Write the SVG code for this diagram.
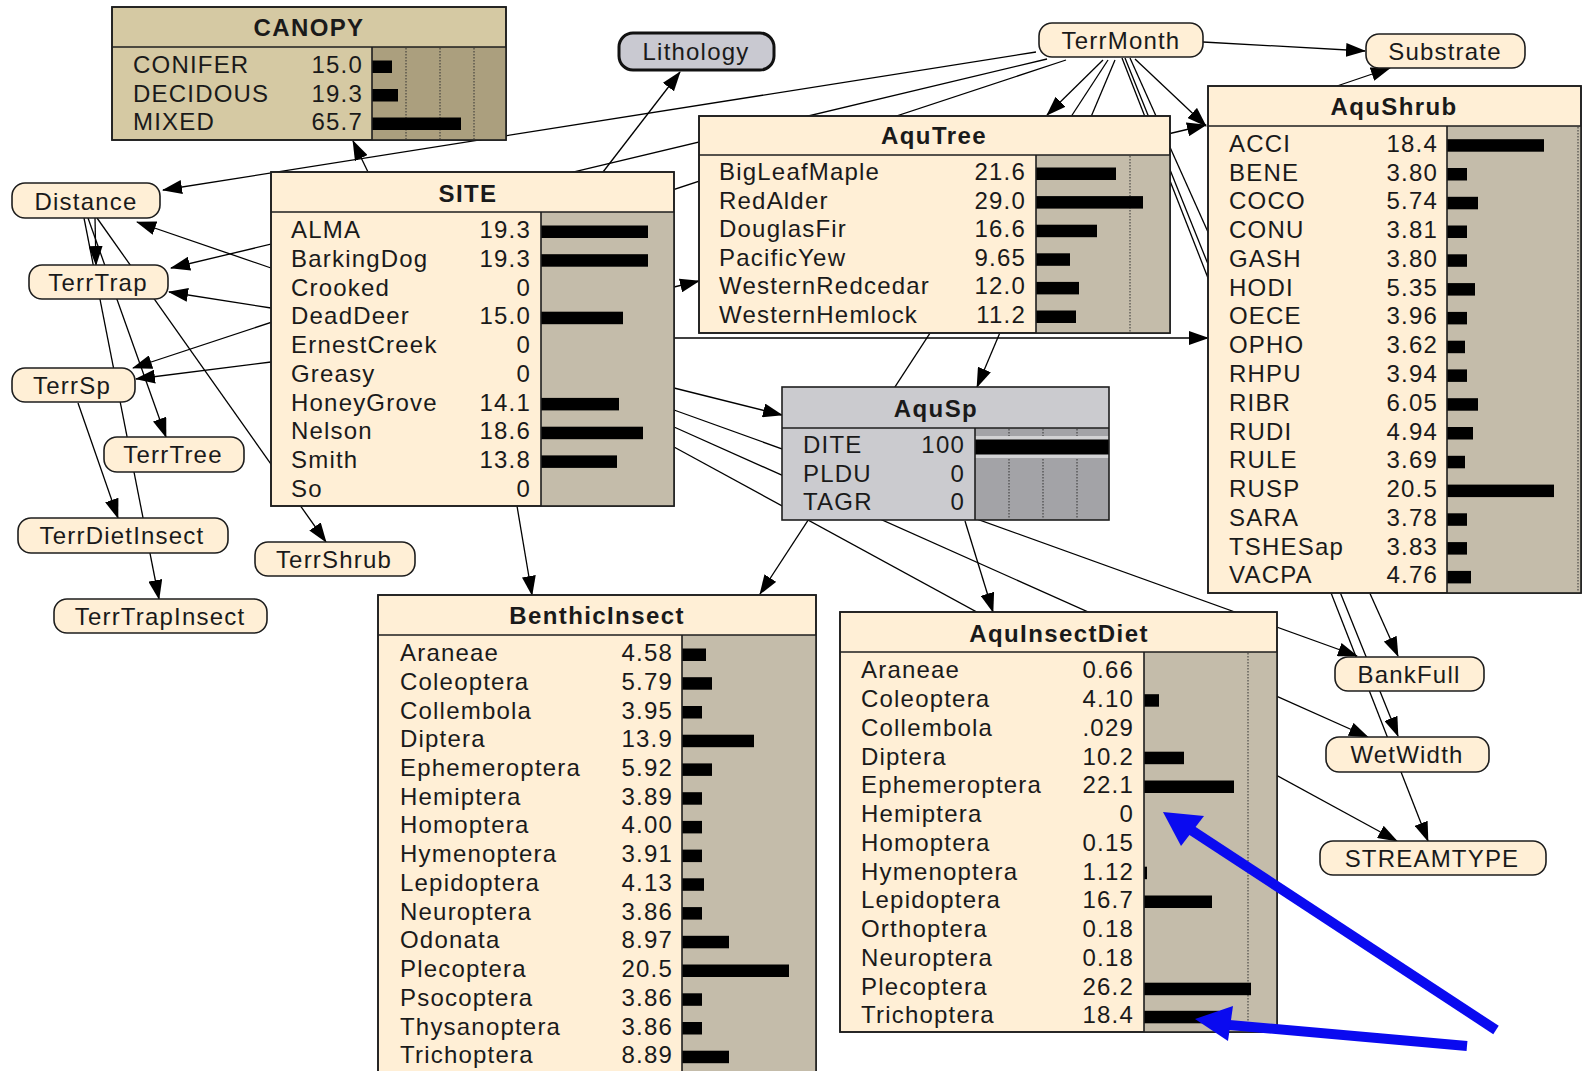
<svg xmlns="http://www.w3.org/2000/svg" width="1583" height="1071" viewBox="0 0 1583 1071">
  <defs>
    <marker id="ah" markerUnits="userSpaceOnUse" markerWidth="20" markerHeight="14" refX="19" refY="7" orient="auto">
      <path d="M0,0 L20,7 L0,14 z" fill="#000"/>
    </marker>
    <style>
      text { font-family: "Liberation Sans", Arial, sans-serif; font-size: 24px; letter-spacing: 1.2px; fill: #1a1a1a; }
      .ttl { font-weight: bold; letter-spacing: 1.4px; text-anchor: middle; }
      .val { text-anchor: end; }
      .mid { text-anchor: middle; }
      .box { fill: #ffefd6; stroke: #1e1e1e; stroke-width: 1.6; }
      .sep { stroke: #1e1e1e; stroke-width: 1.6; }
      .bg { fill: #c4bcaa; }
      .bar { fill: #000; }
      .dot { stroke: #333; stroke-width: 1; stroke-dasharray: 1.5 1.5; }
      .oval { fill: #ffefd6; stroke: #1e1e1e; stroke-width: 1.6; }
      .edge { fill: none; stroke: #000; stroke-width: 1.3; marker-end: url(#ah); }
      .edge0 { fill: none; stroke: #000; stroke-width: 1.3; }
      .blue { stroke: #0a0af0; stroke-width: 10; fill: none; }
      .bluehead { fill: #0a0af0; }
    </style>
  </defs>
  <rect width="1583" height="1071" fill="#fff"/>

  <!-- links between variables, drawn underneath the nodes -->
  <g id="connectors">
    <path class="edge" d="M1036,52 L163,190"/>
    <path class="edge" d="M1047,59 L171,268"/>
    <path class="edge" d="M1066,60 L133,368"/>
    <path class="edge" d="M1103,60 L1047,115"/>
    <path class="edge" d="M1108,60 L760,594"/>
    <path class="edge" d="M1115,60 L977,387"/>
    <path class="edge" d="M1130,58 L1398,656"/>
    <path class="edge" d="M1125,58 L1398,736"/>
    <path class="edge" d="M1122,58 L1428,841"/>
    <path class="edge" d="M1135,59 L1206,126"/>
    <path class="edge" d="M1203,42 L1365,51"/>
    <path class="edge" d="M1337,86 L1390,68"/>
    <path class="edge" d="M368,172 L353,141"/>
    <path class="edge" d="M603,172 L680,72"/>
    <path class="edge" d="M271,268 L137,222"/>
    <path class="edge" d="M271,308 L169,292"/>
    <path class="edge" d="M271,362 L136,379"/>
    <path class="edge" d="M95,218 L96,265"/>
    <path class="edge" d="M88,218 L166,437"/>
    <path class="edge" d="M84,218 L159,599"/>
    <path class="edge" d="M97,218 L326,542"/>
    <path class="edge" d="M78,403 L118,518"/>
    <path class="edge" d="M517,506 L532,595"/>
    <path class="edge" d="M674,287 L699,281"/>
    <path class="edge" d="M674,338 L1208,338"/>
    <path class="edge" d="M1100,150 L1206,125"/>
    <path class="edge" d="M674,388 L782,415"/>
    <path class="edge" d="M674,410 L1357,656"/>
    <path class="edge" d="M674,427 L1368,737"/>
    <path class="edge" d="M674,447 L1397,841"/>
    <path class="edge" d="M965,521 L993,612"/>
  </g>

  <!-- CANOPY -->
  <g id="canopy">
    <rect x="112" y="7" width="394" height="133" fill="#d5c9a3" stroke="#1e1e1e" stroke-width="1.6"/>
    <rect x="372" y="47" width="134" height="93" fill="#ab9f7e"/>
    <line class="dot" x1="406" y1="48" x2="406" y2="139"/>
    <line class="dot" x1="440" y1="48" x2="440" y2="139"/>
    <line class="dot" x1="474" y1="48" x2="474" y2="139"/>
    <rect x="372" y="60.5" width="20" height="12.5" class="bar"/>
    <rect x="372" y="89" width="26" height="12.5" class="bar"/>
    <rect x="372" y="117.5" width="89" height="12.5" class="bar"/>
    <line class="sep" x1="112" y1="47" x2="506" y2="47"/>
    <line class="sep" x1="372" y1="47" x2="372" y2="140"/>
    <rect x="112" y="7" width="394" height="133" fill="none" stroke="#1e1e1e" stroke-width="1.6"/>
    <text class="ttl" x="309" y="36">CANOPY</text>
    <text x="133" y="73">CONIFER</text><text class="val" x="363" y="73">15.0</text>
    <text x="133" y="101.5">DECIDOUS</text><text class="val" x="363" y="101.5">19.3</text>
    <text x="133" y="130">MIXED</text><text class="val" x="363" y="130">65.7</text>
  </g>

  <!-- SITE -->
  <g id="site">
    <rect class="box" x="271" y="172" width="403" height="334"/>
    <rect class="bg" x="541" y="212" width="133" height="294"/>
    <rect class="bar" x="541" y="225.5" width="107" height="12.5"/>
    <rect class="bar" x="541" y="254.2" width="107" height="12.5"/>
    <rect class="bar" x="541" y="311.7" width="82" height="12.5"/>
    <rect class="bar" x="541" y="397.9" width="78" height="12.5"/>
    <rect class="bar" x="541" y="426.7" width="102" height="12.5"/>
    <rect class="bar" x="541" y="455.4" width="76" height="12.5"/>
    <line class="sep" x1="271" y1="212" x2="674" y2="212"/>
    <line class="sep" x1="541" y1="212" x2="541" y2="506"/>
    <rect x="271" y="172" width="403" height="334" fill="none" stroke="#1e1e1e" stroke-width="1.6"/>
    <text class="ttl" x="468" y="202">SITE</text>
    <text x="291" y="238">ALMA</text><text class="val" x="531" y="238">19.3</text>
    <text x="291" y="266.75">BarkingDog</text><text class="val" x="531" y="266.75">19.3</text>
    <text x="291" y="295.5">Crooked</text><text class="val" x="531" y="295.5">0</text>
    <text x="291" y="324.25">DeadDeer</text><text class="val" x="531" y="324.25">15.0</text>
    <text x="291" y="353">ErnestCreek</text><text class="val" x="531" y="353">0</text>
    <text x="291" y="381.75">Greasy</text><text class="val" x="531" y="381.75">0</text>
    <text x="291" y="410.5">HoneyGrove</text><text class="val" x="531" y="410.5">14.1</text>
    <text x="291" y="439.25">Nelson</text><text class="val" x="531" y="439.25">18.6</text>
    <text x="291" y="468">Smith</text><text class="val" x="531" y="468">13.8</text>
    <text x="291" y="496.75">So</text><text class="val" x="531" y="496.75">0</text>
  </g>

  <!-- AquTree -->
  <g id="aqutree">
    <rect class="box" x="699" y="116" width="471" height="217"/>
    <rect class="bg" x="1036" y="155" width="134" height="178"/>
    <line class="dot" x1="1130" y1="156" x2="1130" y2="332"/>
    <rect class="bar" x="1036" y="167.5" width="80" height="12.5"/>
    <rect class="bar" x="1036" y="196.1" width="107" height="12.5"/>
    <rect class="bar" x="1036" y="224.7" width="61" height="12.5"/>
    <rect class="bar" x="1036" y="253.3" width="34" height="12.5"/>
    <rect class="bar" x="1036" y="281.9" width="43" height="12.5"/>
    <rect class="bar" x="1036" y="310.5" width="40" height="12.5"/>
    <line class="sep" x1="699" y1="155" x2="1170" y2="155"/>
    <line class="sep" x1="1036" y1="155" x2="1036" y2="333"/>
    <rect x="699" y="116" width="471" height="217" fill="none" stroke="#1e1e1e" stroke-width="1.6"/>
    <text class="ttl" x="934" y="144">AquTree</text>
    <text x="719" y="180">BigLeafMaple</text><text class="val" x="1026" y="180">21.6</text>
    <text x="719" y="208.6">RedAlder</text><text class="val" x="1026" y="208.6">29.0</text>
    <text x="719" y="237.2">DouglasFir</text><text class="val" x="1026" y="237.2">16.6</text>
    <text x="719" y="265.8">PacificYew</text><text class="val" x="1026" y="265.8">9.65</text>
    <text x="719" y="294.4">WesternRedcedar</text><text class="val" x="1026" y="294.4">12.0</text>
    <text x="719" y="323">WesternHemlock</text><text class="val" x="1026" y="323">11.2</text>
  </g>

  <!-- AquShrub -->
  <g id="aqushrub">
    <rect class="box" x="1208" y="86" width="373" height="507"/>
    <rect class="bg" x="1447" y="126" width="134" height="467"/>
    <line class="dot" x1="1578" y1="127" x2="1578" y2="592"/>
    <rect class="bar" x="1447" y="139.2" width="97" height="12.5"/>
    <rect class="bar" x="1447" y="168" width="20" height="12.5"/>
    <rect class="bar" x="1447" y="196.8" width="31" height="12.5"/>
    <rect class="bar" x="1447" y="225.5" width="20" height="12.5"/>
    <rect class="bar" x="1447" y="254.3" width="20" height="12.5"/>
    <rect class="bar" x="1447" y="283.1" width="28" height="12.5"/>
    <rect class="bar" x="1447" y="311.9" width="20" height="12.5"/>
    <rect class="bar" x="1447" y="340.7" width="18" height="12.5"/>
    <rect class="bar" x="1447" y="369.4" width="20" height="12.5"/>
    <rect class="bar" x="1447" y="398.2" width="31" height="12.5"/>
    <rect class="bar" x="1447" y="427" width="26" height="12.5"/>
    <rect class="bar" x="1447" y="455.8" width="18" height="12.5"/>
    <rect class="bar" x="1447" y="484.6" width="107" height="12.5"/>
    <rect class="bar" x="1447" y="513.3" width="20" height="12.5"/>
    <rect class="bar" x="1447" y="542.1" width="20" height="12.5"/>
    <rect class="bar" x="1447" y="570.9" width="24" height="12.5"/>
    <line class="sep" x1="1208" y1="126" x2="1581" y2="126"/>
    <line class="sep" x1="1447" y1="126" x2="1447" y2="593"/>
    <rect x="1208" y="86" width="373" height="507" fill="none" stroke="#1e1e1e" stroke-width="1.6"/>
    <text class="ttl" x="1394" y="115">AquShrub</text>
    <text x="1229" y="151.7">ACCI</text><text class="val" x="1438" y="151.7">18.4</text>
    <text x="1229" y="180.5">BENE</text><text class="val" x="1438" y="180.5">3.80</text>
    <text x="1229" y="209.3">COCO</text><text class="val" x="1438" y="209.3">5.74</text>
    <text x="1229" y="238">CONU</text><text class="val" x="1438" y="238">3.81</text>
    <text x="1229" y="266.8">GASH</text><text class="val" x="1438" y="266.8">3.80</text>
    <text x="1229" y="295.6">HODI</text><text class="val" x="1438" y="295.6">5.35</text>
    <text x="1229" y="324.4">OECE</text><text class="val" x="1438" y="324.4">3.96</text>
    <text x="1229" y="353.2">OPHO</text><text class="val" x="1438" y="353.2">3.62</text>
    <text x="1229" y="381.9">RHPU</text><text class="val" x="1438" y="381.9">3.94</text>
    <text x="1229" y="410.7">RIBR</text><text class="val" x="1438" y="410.7">6.05</text>
    <text x="1229" y="439.5">RUDI</text><text class="val" x="1438" y="439.5">4.94</text>
    <text x="1229" y="468.3">RULE</text><text class="val" x="1438" y="468.3">3.69</text>
    <text x="1229" y="497.1">RUSP</text><text class="val" x="1438" y="497.1">20.5</text>
    <text x="1229" y="525.8">SARA</text><text class="val" x="1438" y="525.8">3.78</text>
    <text x="1229" y="554.6">TSHESap</text><text class="val" x="1438" y="554.6">3.83</text>
    <text x="1229" y="583.4">VACPA</text><text class="val" x="1438" y="583.4">4.76</text>
  </g>

  <!-- AquSp -->
  <g id="aqusp">
    <rect x="782" y="387" width="327" height="133" fill="#cbcbcf"/>
    <rect x="975" y="428" width="134" height="92" fill="#a3a3a7"/>
    <line class="dot" x1="1009" y1="429" x2="1009" y2="519"/>
    <line class="dot" x1="1043" y1="429" x2="1043" y2="519"/>
    <line class="dot" x1="1077" y1="429" x2="1077" y2="519"/>
    <rect x="975" y="436" width="134" height="22" fill="#d2d2d4"/>
    <rect x="975" y="439.5" width="134" height="15" fill="#000"/>
    <line class="sep" x1="782" y1="428" x2="1109" y2="428"/>
    <line class="sep" x1="975" y1="428" x2="975" y2="520"/>
    <rect x="782" y="387" width="327" height="133" fill="none" stroke="#1e1e1e" stroke-width="1.6"/>
    <text class="ttl" x="936" y="417">AquSp</text>
    <text x="803" y="453">DITE</text><text class="val" x="965" y="453">100</text>
    <text x="803" y="481.7">PLDU</text><text class="val" x="965" y="481.7">0</text>
    <text x="803" y="510">TAGR</text><text class="val" x="965" y="510">0</text>
  </g>

  <!-- BenthicInsect -->
  <g id="benthicinsect">
    <rect class="box" x="378" y="595" width="438" height="500"/>
    <rect class="bg" x="682" y="635" width="134" height="460"/>
    <rect class="bar" x="682" y="648.5" width="24" height="12.5"/>
    <rect class="bar" x="682" y="677.2" width="30" height="12.5"/>
    <rect class="bar" x="682" y="706" width="20" height="12.5"/>
    <rect class="bar" x="682" y="734.7" width="72" height="12.5"/>
    <rect class="bar" x="682" y="763.4" width="30" height="12.5"/>
    <rect class="bar" x="682" y="792.2" width="20" height="12.5"/>
    <rect class="bar" x="682" y="820.9" width="20" height="12.5"/>
    <rect class="bar" x="682" y="849.6" width="20" height="12.5"/>
    <rect class="bar" x="682" y="878.3" width="22" height="12.5"/>
    <rect class="bar" x="682" y="907.1" width="20" height="12.5"/>
    <rect class="bar" x="682" y="935.8" width="47" height="12.5"/>
    <rect class="bar" x="682" y="964.5" width="107" height="12.5"/>
    <rect class="bar" x="682" y="993.3" width="20" height="12.5"/>
    <rect class="bar" x="682" y="1022" width="20" height="12.5"/>
    <rect class="bar" x="682" y="1050.7" width="47" height="12.5"/>
    <line class="sep" x1="378" y1="635" x2="816" y2="635"/>
    <line class="sep" x1="682" y1="635" x2="682" y2="1095"/>
    <rect x="378" y="595" width="438" height="500" fill="none" stroke="#1e1e1e" stroke-width="1.6"/>
    <text class="ttl" x="597" y="624">BenthicInsect</text>
    <text x="400" y="661">Araneae</text><text class="val" x="673" y="661">4.58</text>
    <text x="400" y="689.7">Coleoptera</text><text class="val" x="673" y="689.7">5.79</text>
    <text x="400" y="718.5">Collembola</text><text class="val" x="673" y="718.5">3.95</text>
    <text x="400" y="747.2">Diptera</text><text class="val" x="673" y="747.2">13.9</text>
    <text x="400" y="775.9">Ephemeroptera</text><text class="val" x="673" y="775.9">5.92</text>
    <text x="400" y="804.7">Hemiptera</text><text class="val" x="673" y="804.7">3.89</text>
    <text x="400" y="833.4">Homoptera</text><text class="val" x="673" y="833.4">4.00</text>
    <text x="400" y="862.1">Hymenoptera</text><text class="val" x="673" y="862.1">3.91</text>
    <text x="400" y="890.8">Lepidoptera</text><text class="val" x="673" y="890.8">4.13</text>
    <text x="400" y="919.6">Neuroptera</text><text class="val" x="673" y="919.6">3.86</text>
    <text x="400" y="948.3">Odonata</text><text class="val" x="673" y="948.3">8.97</text>
    <text x="400" y="977">Plecoptera</text><text class="val" x="673" y="977">20.5</text>
    <text x="400" y="1005.8">Psocoptera</text><text class="val" x="673" y="1005.8">3.86</text>
    <text x="400" y="1034.5">Thysanoptera</text><text class="val" x="673" y="1034.5">3.86</text>
    <text x="400" y="1063.2">Trichoptera</text><text class="val" x="673" y="1063.2">8.89</text>
  </g>

  <!-- AquInsectDiet -->
  <g id="aquinsectdiet">
    <rect class="box" x="840" y="612" width="437" height="420"/>
    <rect class="bg" x="1144" y="652" width="133" height="380"/>
    <line class="dot" x1="1248" y1="653" x2="1248" y2="1031"/>
    <rect class="bar" x="1144" y="694.2" width="15" height="12.5"/>
    <rect class="bar" x="1144" y="751.7" width="40" height="12.5"/>
    <rect class="bar" x="1144" y="780.5" width="90" height="12.5"/>
    <rect class="bar" x="1144" y="866.7" width="3" height="12.5"/>
    <rect class="bar" x="1144" y="895.5" width="68" height="12.5"/>
    <rect class="bar" x="1144" y="982.7" width="107" height="12.5"/>
    <rect class="bar" x="1144" y="1010.8" width="75" height="12.5"/>
    <line class="sep" x1="840" y1="652" x2="1277" y2="652"/>
    <line class="sep" x1="1144" y1="652" x2="1144" y2="1032"/>
    <rect x="840" y="612" width="437" height="420" fill="none" stroke="#1e1e1e" stroke-width="1.6"/>
    <text class="ttl" x="1059" y="641.7">AquInsectDiet</text>
    <text x="861" y="678.3">Araneae</text><text class="val" x="1134" y="678.3">0.66</text>
    <text x="861" y="707">Coleoptera</text><text class="val" x="1134" y="707">4.10</text>
    <text x="861" y="735.8">Collembola</text><text class="val" x="1134" y="735.8">.029</text>
    <text x="861" y="764.5">Diptera</text><text class="val" x="1134" y="764.5">10.2</text>
    <text x="861" y="793.3">Ephemeroptera</text><text class="val" x="1134" y="793.3">22.1</text>
    <text x="861" y="822">Hemiptera</text><text class="val" x="1134" y="822">0</text>
    <text x="861" y="850.8">Homoptera</text><text class="val" x="1134" y="850.8">0.15</text>
    <text x="861" y="879.5">Hymenoptera</text><text class="val" x="1134" y="879.5">1.12</text>
    <text x="861" y="908.3">Lepidoptera</text><text class="val" x="1134" y="908.3">16.7</text>
    <text x="861" y="937">Orthoptera</text><text class="val" x="1134" y="937">0.18</text>
    <text x="861" y="965.8">Neuroptera</text><text class="val" x="1134" y="965.8">0.18</text>
    <text x="861" y="994.5">Plecoptera</text><text class="val" x="1134" y="994.5">26.2</text>
    <text x="861" y="1023.3">Trichoptera</text><text class="val" x="1134" y="1023.3">18.4</text>
  </g>

  <!-- small state-less nodes -->
  <g id="lithology"><rect x="619" y="33" width="155" height="37" rx="14" fill="#c9c9d1" stroke="#111" stroke-width="3"/><text class="mid" x="696" y="60">Lithology</text></g>
  <g id="terrmonth"><rect class="oval" x="1039" y="23" width="164" height="34" rx="13"/><text class="mid" x="1121" y="48.5">TerrMonth</text></g>
  <g id="substrate"><rect class="oval" x="1366" y="34" width="159" height="34" rx="13"/><text class="mid" x="1445" y="59.5">Substrate</text></g>
  <g id="distance"><rect class="oval" x="12" y="183" width="148" height="35" rx="13"/><text class="mid" x="86" y="209.5">Distance</text></g>
  <g id="terrtrap"><rect class="oval" x="29" y="265" width="139" height="34" rx="13"/><text class="mid" x="98" y="290.5">TerrTrap</text></g>
  <g id="terrsp"><rect class="oval" x="12" y="368" width="123" height="34" rx="13"/><text class="mid" x="72" y="393.5">TerrSp</text></g>
  <g id="terrtree"><rect class="oval" x="104" y="437" width="140" height="35" rx="13"/><text class="mid" x="173" y="463">TerrTree</text></g>
  <g id="terrdietinsect"><rect class="oval" x="18" y="518" width="210" height="35" rx="13"/><text class="mid" x="122" y="544">TerrDietInsect</text></g>
  <g id="terrshrub"><rect class="oval" x="255" y="542" width="160" height="34" rx="13"/><text class="mid" x="334" y="567.5">TerrShrub</text></g>
  <g id="terrtrapinsect"><rect class="oval" x="54" y="599" width="213" height="34" rx="13"/><text class="mid" x="160" y="624.5">TerrTrapInsect</text></g>
  <g id="bankfull"><rect class="oval" x="1335" y="657" width="149" height="34" rx="13"/><text class="mid" x="1409" y="682.5">BankFull</text></g>
  <g id="wetwidth"><rect class="oval" x="1326" y="737" width="163" height="35" rx="13"/><text class="mid" x="1407" y="763">WetWidth</text></g>
  <g id="streamtype"><rect class="oval" x="1320" y="841" width="226" height="34" rx="13"/><text class="mid" x="1432" y="866.5">STREAMTYPE</text></g>

  <!-- blue pointers -->
  <g id="pointers">
    <line class="blue" x1="1496" y1="1030" x2="1188" y2="828"/>
    <polygon class="bluehead" points="1163,812 1204,816 1181,846"/>
    <line class="blue" x1="1467" y1="1046" x2="1218" y2="1024"/>
    <polygon class="bluehead" points="1195,1019 1233,1006 1228,1041"/>
  </g>
</svg>
